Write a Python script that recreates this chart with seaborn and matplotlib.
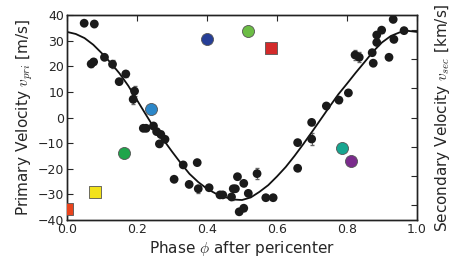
import numpy as np
import pandas as pd
import matplotlib
matplotlib.use("Agg")
import matplotlib.pyplot as plt
import seaborn as sns

# primary star RVs (m/s)
phase = [0.049, 0.078, 0.069, 0.076, 0.107, 0.130, 0.168, 0.149, 0.193, 0.189,
         0.218, 0.226, 0.247, 0.256, 0.268, 0.280, 0.264, 0.332, 0.372, 0.306,
         0.349, 0.375, 0.406, 0.437, 0.445, 0.470, 0.475, 0.481, 0.487, 0.492,
         0.505, 0.505, 0.518, 0.543, 0.568, 0.589, 0.659, 0.659, 0.699, 0.699,
         0.741, 0.777, 0.804, 0.823, 0.835, 0.872, 0.875, 0.885, 0.885, 0.899,
         0.920, 0.932, 0.934, 0.963]
v_pri = [36.8, 36.5, 20.9, 21.7, 23.5, 20.8, 17.0, 14.0, 10.3, 7.1,
         -4.2, -4.2, -3.3, -5.5, -6.6, -8.5, -10.3, -18.5, -17.6, -24.1,
         -26.1, -27.8, -27.4, -30.2, -30.2, -31.0, -27.8, -27.8, -23.1, -36.8,
         -35.4, -25.7, -29.6, -21.9, -31.3, -31.3, -19.8, -9.8, -8.4, -1.9,
         4.5, 6.8, 9.6, 24.4, 23.5, 25.3, 21.2, 29.3, 32.2, 34.1,
         23.5, 38.3, 30.5, 33.9]
v_err = [1.0, 1.0, 1.0, 1.0, 1.0, 1.5, 1.0, 1.0, 2.0, 2.0,
         1.0, 1.0, 1.0, 1.0, 1.5, 1.0, 1.0, 1.0, 1.0, 1.0,
         1.0, 1.5, 1.0, 1.0, 1.0, 1.0, 1.0, 1.0, 1.0, 1.0,
         1.0, 1.0, 1.0, 2.2, 1.0, 1.0, 1.0, 1.0, 2.5, 1.0,
         1.0, 1.0, 1.0, 2.0, 2.0, 1.0, 1.0, 1.0, 1.0, 1.0,
         1.0, 1.0, 1.0, 1.0]

# orbit model curve
model_phase = [0.000, 0.025, 0.050, 0.075, 0.100, 0.125, 0.150, 0.175, 0.200, 0.225,
               0.250, 0.275, 0.300, 0.325, 0.350, 0.375, 0.400, 0.425, 0.450, 0.475,
               0.500, 0.525, 0.550, 0.575, 0.600, 0.625, 0.650, 0.675, 0.700, 0.725,
               0.750, 0.775, 0.800, 0.825, 0.850, 0.875, 0.900, 0.925, 0.950, 0.975,
               1.000]
model_v = [33.4, 32.6, 31.0, 28.4, 25.0, 21.3, 17.2, 12.4, 6.8, 1.2,
           -4.3, -8.6, -13.3, -17.8, -22.0, -25.2, -27.8, -29.7, -31.0, -32.0,
           -32.2, -31.2, -29.0, -26.4, -23.0, -19.3, -15.0, -10.4, -5.6, -0.7,
           4.2, 9.0, 13.2, 17.5, 21.6, 25.8, 29.3, 31.8, 33.2, 33.8,
           33.4]

# secondary velocities (km/s)
sec_phase = [0.400, 0.518, 0.583, 0.241, 0.164, 0.080, 0.000, 0.787, 0.811]
sec_v = [2.68, 2.95, 2.36, 0.29, -1.20, -2.54, -3.13, -1.04, -1.50]
sec_marker = ["o", "o", "s", "o", "o", "s", "s", "o", "o"]
sec_color = ["#263e97", "#6cbd45", "#d32a2a", "#2c87c9", "#1fa54b",
             "#f2e21a", "#e9441d", "#17a690", "#7a2b8c"]

sns.set_style("white")
plt.rcParams["font.family"] = ["DejaVu Sans"]
plt.rcParams["mathtext.fontset"] = "cm"

fig, ax = plt.subplots(figsize=(4.6, 2.62), dpi=100)
fig.subplots_adjust(left=0.1457, right=0.9065, top=0.9427, bottom=0.1603)

ax.errorbar(phase, v_pri, yerr=v_err, fmt="none", ecolor="#666666",
            elinewidth=0.8, capsize=1.5, zorder=2)
sns.lineplot(x=model_phase, y=model_v, color="#111111", lw=1.3, ax=ax, zorder=3)
sns.scatterplot(x=phase, y=v_pri, color="#1a1a1a", s=40, edgecolor="none",
                ax=ax, zorder=4)

ax.set_xlim(0, 1)
ax.set_ylim(-40, 40)
ax.set_xticks([0, 0.2, 0.4, 0.6, 0.8, 1.0])
ax.set_yticks(range(-40, 41, 10))
ax.set_xlabel(r"Phase $\phi$ after pericenter", fontsize=11, labelpad=2)
ax.set_ylabel(r"Primary Velocity $v_{pri}$ [m/s]", fontsize=11, labelpad=2)
ax.tick_params(direction="in", top=True, right=False, length=4,
               labelsize=9, pad=2)

ax2 = ax.twinx()
for i in range(len(sec_phase)):
    sns.scatterplot(x=[sec_phase[i]], y=[sec_v[i]], marker=sec_marker[i],
                    color=sec_color[i], s=75 if sec_marker[i] == "o" else 75,
                    edgecolor="#555555", linewidth=0.6, ax=ax2, zorder=5,
                    clip_on=True)
ax2.set_ylim(-3.5, 3.5)
ax2.set_yticks(range(-3, 4))
ax2.set_yticklabels([])
ax2.tick_params(direction="in", length=4, right=True)
ax2.set_ylabel(r"Secondary Velocity $v_{sec}$ [km/s]", fontsize=11, labelpad=8)

for a in (ax, ax2):
    for s in a.spines.values():
        s.set_color("#222222")
        s.set_linewidth(1.0)

fig.savefig("out.png", dpi=100)
